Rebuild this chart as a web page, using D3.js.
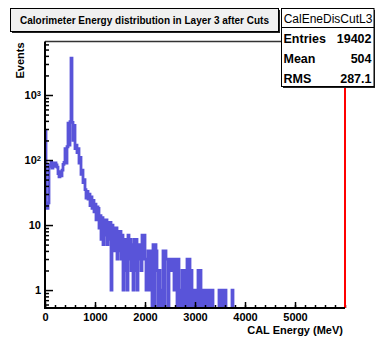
<!DOCTYPE html>
<html>
<head>
<meta charset="utf-8">
<script src="https://cdn.jsdelivr.net/npm/d3@7"></script>
<style>
  body { margin: 0; background: #fff; }
  svg text { font-family: "Liberation Sans", Arial, Helvetica, sans-serif; }
</style>
</head>
<body>
<div id="chart"></div>
<script>
// histogram: 20 MeV bins starting at 0, bins after the list are empty
var binWidth = 20;
var counts = [
  280, 20, 18, 22, 85, 80, 92, 75, 88, 80, 90, 84, 78, 62, 55, 66, 57, 70, 86, 92,
  150, 90, 160, 370, 170, 390, 3700, 380, 200, 340, 150, 170, 130, 150, 90, 110, 60, 70, 45, 50,
  35, 26, 33, 25, 30, 20, 27, 18, 24, 16, 21, 12, 19, 18, 9, 14, 6, 13, 5, 12,
  7, 12, 5, 11, 6, 11, 1, 10, 4, 9, 4, 9, 3, 8, 4, 8, 3, 7, 1, 6,
  2, 6, 1, 7, 3, 6, 2, 5, 1, 6, 2, 6, 1, 5, 3, 5, 2, 7, 3, 7,
  3, 1, 3, 4, 1, 4, 3, 0, 5, 0, 5, 4, 2, 0, 2, 1, 0, 1, 4, 0,
  4, 3, 3, 0, 3, 2, 3, 2, 3, 1, 1, 3, 0, 3, 1, 0, 1, 2, 0, 2,
  0, 2, 3, 0, 3, 0, 2, 1, 0, 1, 0, 1, 0, 2, 0, 2, 0, 1, 0, 1,
  0, 1, 0, 1, 0, 1, 0, 1, 0, 0, 0, 0, 0, 0, 1, 0, 1, 0, 1, 0,
  1, 0, 0, 0, 0, 0, 0, 1
];

var xMajor = [0, 1000, 2000, 3000, 4000, 5000];
var xMinor = d3.range(0, 6001, 200);
var yMajor = [1, 10, 100, 1000];
var yMajorLabels = ["1", "10", "10|2", "10|3"];
var yMinor = [0.6, 0.7, 0.8, 0.9, 2, 3, 4, 5, 6, 7, 8, 9, 20, 30, 40, 50, 60, 70, 80, 90,
              200, 300, 400, 500, 600, 700, 800, 900, 2000, 3000, 4000, 5000, 6000];

var title = "Calorimeter Energy distribution in Layer 3 after Cuts";
var statName = "CalEneDisCutL3";
var statLabels = ["Entries", "Mean", "RMS"];
var statValues = ["19402", "504", "287.1"];

var fullWidth = 375, fullHeight = 338;
var frameL = 45, frameR = 345, frameT = 41.5, frameB = 308;
var histColor = "#5954d9";

var svg = d3.select('#chart').append('svg')
  .attr('width', fullWidth)
  .attr('height', fullHeight);

svg.append('rect').attr('width', fullWidth).attr('height', fullHeight).attr('fill', '#fff');

var x = d3.scaleLinear().domain([0, 6000]).range([frameL, frameR]);
var y = d3.scaleLog().domain([0.53, 6650]).range([frameB, frameT]);

// clip for the histogram
svg.append('clipPath').attr('id', 'frame')
  .append('rect')
    .attr('x', frameL).attr('y', frameT)
    .attr('width', frameR - frameL).attr('height', frameB - frameT);

// step points: each bin start, then one point to drop at the end
var pts = counts.map(function(v, i) { return [i * binWidth, v]; });
pts.push([counts.length * binWidth, 0]);

var line = d3.line()
  .x(function(d) { return x(d[0]); })
  .y(function(d) { return d[1] > 0 ? y(d[1]) : y(0.1); })
  .curve(d3.curveStepAfter);

svg.append('path')
  .datum(pts)
  .attr('clip-path', 'url(#frame)')
  .attr('fill', 'none')
  .attr('stroke', histColor)
  .attr('stroke-width', 2.8)
  .attr('d', line);

// x axis: minor then major ticks pointing inside
svg.append('g')
  .attr('transform', 'translate(0,' + frameB + ')')
  .call(d3.axisBottom(x).tickValues(xMinor).tickSize(-3).tickFormat(''))
  .call(function(g) { g.select('.domain').remove(); })
  .selectAll('line').attr('stroke-width', 1.5);

var xAx = svg.append('g')
  .attr('transform', 'translate(0,' + frameB + ')')
  .call(d3.axisBottom(x).tickValues(xMajor).tickSize(-6).tickPadding(5).tickFormat(d3.format('d')));
xAx.select('.domain').remove();
xAx.selectAll('line').attr('stroke-width', 1.5);
xAx.selectAll('text')
  .attr('fill', '#000')
  .style('font-size', '11px')
  .style('font-weight', 'bold');

// y axis
svg.append('g')
  .attr('transform', 'translate(' + frameL + ',0)')
  .call(d3.axisLeft(y).tickValues(yMinor).tickSize(-4).tickFormat(''))
  .call(function(g) { g.select('.domain').remove(); })
  .selectAll('line').attr('stroke-width', 1.5);

var yAx = svg.append('g')
  .attr('transform', 'translate(' + frameL + ',0)')
  .call(d3.axisLeft(y).tickValues(yMajor).tickSize(-8).tickPadding(4)
    .tickFormat(function() { return ''; }));
yAx.select('.domain').remove();
yAx.selectAll('line').attr('stroke-width', 1.5);
yAx.selectAll('text').each(function(d, i) {
  var parts = yMajorLabels[i].split('|');
  var t = d3.select(this)
    .attr('fill', '#000')
    .style('font-size', '11px')
    .style('font-weight', 'bold');
  t.append('tspan').text(parts[0]);
  if (parts[1]) {
    t.append('tspan').attr('dy', '-0.45em').style('font-size', '7.5px').text(parts[1]);
  }
});

// frame
svg.append('line').attr('x1', frameL).attr('x2', frameR).attr('y1', frameT).attr('y2', frameT)
  .attr('stroke', '#333').attr('stroke-width', 1.5);
svg.append('line').attr('x1', frameR).attr('x2', frameR).attr('y1', frameT).attr('y2', frameB)
  .attr('stroke', '#ff0000').attr('stroke-width', 2);
svg.append('line').attr('x1', frameL).attr('x2', frameL).attr('y1', frameT).attr('y2', frameB + 1)
  .attr('stroke', '#000').attr('stroke-width', 2);
svg.append('line').attr('x1', frameL).attr('x2', frameR).attr('y1', frameB).attr('y2', frameB)
  .attr('stroke', '#000').attr('stroke-width', 2);

// axis titles
svg.append('text')
  .attr('x', frameR - 2).attr('y', 334)
  .attr('text-anchor', 'end')
  .style('font-size', '11px').style('font-weight', 'bold')
  .text('CAL Energy (MeV)');

svg.append('text')
  .attr('transform', 'translate(24,' + (frameT + 1) + ') rotate(-90)')
  .attr('text-anchor', 'end')
  .style('font-size', '11px').style('font-weight', 'bold')
  .text('Events');

// title box with shadow
svg.append('rect').attr('x', 12).attr('y', 10).attr('width', 268).attr('height', 23)
  .attr('fill', '#222');
svg.append('rect').attr('x', 10.5).attr('y', 8.5).attr('width', 268).attr('height', 23)
  .attr('fill', '#f0f0f0').attr('stroke', '#000').attr('stroke-width', 1);
svg.append('text')
  .attr('x', 144.5).attr('y', 24)
  .attr('text-anchor', 'middle')
  .style('font-size', '10px').style('font-weight', 'bold')
  .text(title);

// stats box
svg.append('rect').attr('x', 283).attr('y', 10).attr('width', 93).attr('height', 78)
  .attr('fill', '#222');
svg.append('rect').attr('x', 281.5).attr('y', 8.5).attr('width', 92.5).attr('height', 78)
  .attr('fill', '#fff').attr('stroke', '#000').attr('stroke-width', 1);
svg.append('line').attr('x1', 281.5).attr('x2', 374).attr('y1', 27.5).attr('y2', 27.5)
  .attr('stroke', '#000').attr('stroke-width', 1.2);
svg.append('text')
  .attr('x', 328).attr('y', 23)
  .attr('text-anchor', 'middle')
  .style('font-size', '12px')
  .text(statName);

var rowY = [42.5, 62.5, 83];
statLabels.forEach(function(lab, i) {
  svg.append('text')
    .attr('x', 283.5).attr('y', rowY[i])
    .style('font-size', '12.5px').style('font-weight', 'bold')
    .text(lab);
  svg.append('text')
    .attr('x', 371.5).attr('y', rowY[i])
    .attr('text-anchor', 'end')
    .style('font-size', '12.5px').style('font-weight', 'bold')
    .text(statValues[i]);
});
</script>
</body>
</html>
